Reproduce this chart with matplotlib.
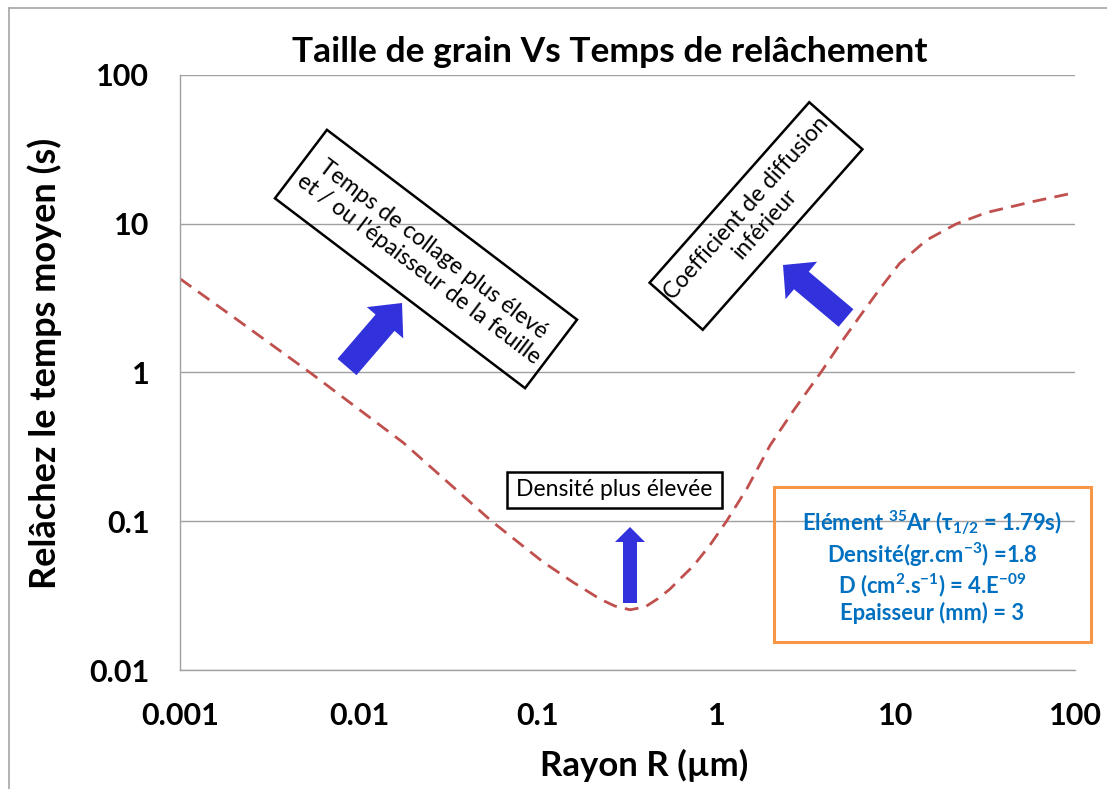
import numpy as np
import matplotlib
matplotlib.use("Agg")
import matplotlib.pyplot as plt
from matplotlib.patches import Rectangle, FancyArrow
from matplotlib.lines import Line2D
from matplotlib.transforms import Affine2D

plt.rcParams['font.family'] = ['Lato', 'DejaVu Sans']
plt.rcParams['mathtext.fontset'] = 'custom'
plt.rcParams['mathtext.rm'] = 'Lato:bold'
plt.rcParams['mathtext.it'] = 'Lato:bold:italic'
plt.rcParams['mathtext.bf'] = 'Lato:bold'
plt.rcParams['mathtext.default'] = 'rm'
plt.rcParams['mathtext.fallback'] = 'stixsans'

## rayon (um) / temps moyen de relachement (s)
rayon = [0.001, 0.00208, 0.00532, 0.0177, 0.0551, 0.107, 0.157, 0.222, 0.269,
         0.327, 0.398, 0.468, 0.546, 0.631, 0.738, 0.914, 1.13, 1.47, 1.98,
         2.66, 3.80, 4.86, 6.30, 8.15, 10.5, 14.8, 21.8, 32.1, 58.3, 100]
temps = [4.27, 2.27, 1.0, 0.337, 0.1, 0.0531, 0.0389, 0.030, 0.0269,
         0.0254, 0.0266, 0.0302, 0.035, 0.0417, 0.0501, 0.0692, 0.1, 0.166, 0.324,
         0.550, 1.0, 1.55, 2.40, 3.67, 5.43, 7.76, 10.0, 11.9, 14.1, 16.2]

x_ticks = [0.001, 0.01, 0.1, 1, 10, 100]
x_ticklabels = ["0.001", "0.01", "0.1", "1", "10", "100"]
y_ticks = [0.01, 0.1, 1, 10, 100]
y_ticklabels = ["0.01", "0.1", "1", "10", "100"]

titre = "Taille de grain Vs Temps de relâchement"
xlab = "Rayon R (µm)"
ylab = "Relâchez le temps moyen (s)"
note_collage = "Temps de collage plus élevé\net / ou l'épaisseur de la feuille"
note_diffusion = "Coefficient de diffusion\ninférieur"
note_densite = "Densité plus élevée"
params = ("Elément $^{35}$Ar ($\\tau_{1/2}$ = 1.79s)\n"
          "Densité(gr.cm$^{-3}$) =1.8\n"
          "D (cm$^{2}$.s$^{-1}$) = 4.E$^{-09}$\n"
          "Epaisseur (mm) = 3")

W, H = 1107, 789
fig = plt.figure(figsize=(W / 100, H / 100), dpi=100)
# pixel coords, origin bottom-left
P = Affine2D().scale(1 / 100) + fig.dpi_scale_trans

ax = fig.add_axes([180 / W, 1 - 670 / H, 895 / W, 595 / H])
ax.set_xscale('log')
ax.set_yscale('log')
ax.set_xlim(0.001, 100)
ax.set_ylim(0.01, 100)
ax.plot(rayon, temps, color='#C0504D', lw=2, dashes=(5, 3))

ax.set_xticks(x_ticks)
ax.set_xticklabels(x_ticklabels)
ax.set_yticks(y_ticks)
ax.set_yticklabels(y_ticklabels)
ax.minorticks_off()
ax.tick_params(length=0, labelsize=22)
ax.tick_params(axis='y', pad=22)
ax.tick_params(axis='x', pad=23)
for lab in ax.get_xticklabels() + ax.get_yticklabels():
    lab.set_fontweight('bold')
ax.grid(axis='y', color='#A0A0A0', lw=1)
for s in ['top', 'right']:
    ax.spines[s].set_visible(False)
for s in ['left', 'bottom']:
    ax.spines[s].set_color('#A0A0A0')
    ax.spines[s].set_linewidth(1)

ax.set_xlabel(xlab, fontsize=25, fontweight='bold')
ax.xaxis.set_label_coords((644 - 180) / 895, -(765 - 670) / 595)
ax.xaxis.label.set_va('center')
ax.set_ylabel(ylab, fontsize=26, fontweight='bold')
ax.yaxis.set_label_coords(-(180 - 45) / 895, (670 - 363) / 595)
ax.yaxis.label.set_va('center')
fig.text(610 / W, 1 - 52 / H, titre, fontsize=25.5, fontweight='bold',
         ha='center', va='center')

# outer frame
fig.add_artist(Line2D([8.5, 8.5], [0, H - 7.5], transform=P, color='#A6A6A6', lw=1.2))
fig.add_artist(Line2D([8.5, W], [H - 7.5, H - 7.5], transform=P, color='#A6A6A6', lw=1.2))


def boite(cx, cy, w, h, ang, txt, size):
    fig.add_artist(Rectangle((cx - w / 2, cy - h / 2), w, h, angle=ang,
                             rotation_point='center', transform=P,
                             fill=False, ec='black', lw=1.8))
    fig.text(cx, cy, txt, transform=P, rotation=ang, rotation_mode='anchor',
             ha='center', va='center', fontsize=size, linespacing=1.2)


boite(426, H - 259, 314, 86, -37.2, note_collage, 16.5)
boite(756, H - 216, 241, 71, 48.5, note_diffusion, 16.5)
boite(614.5, H - 490, 215, 36, 0, note_densite, 16.5)

fig.add_artist(Rectangle((774, H - 642), 317, 155, transform=P,
                         fill=False, ec='#F79646', lw=2.2))
fig.text(932, H - 566, params, transform=P, ha='center', va='center',
         fontsize=15.8, fontweight='bold', color='#0070C0', linespacing=1.13)

bleu = '#3232DC'
for x0, y0, dx, dy, w, hw, hl in [(347, H - 367, 55, 64, 25, 48, 26),
                                  (846, H - 318, -63, 53, 23, 49, 24),
                                  (630, H - 603, 0, 76, 14, 30, 15)]:
    fig.add_artist(FancyArrow(x0, y0, dx, dy, width=w, head_width=hw,
                              head_length=hl, length_includes_head=True,
                              transform=P, color=bleu, lw=0))

fig.savefig("out.png", dpi=100)
